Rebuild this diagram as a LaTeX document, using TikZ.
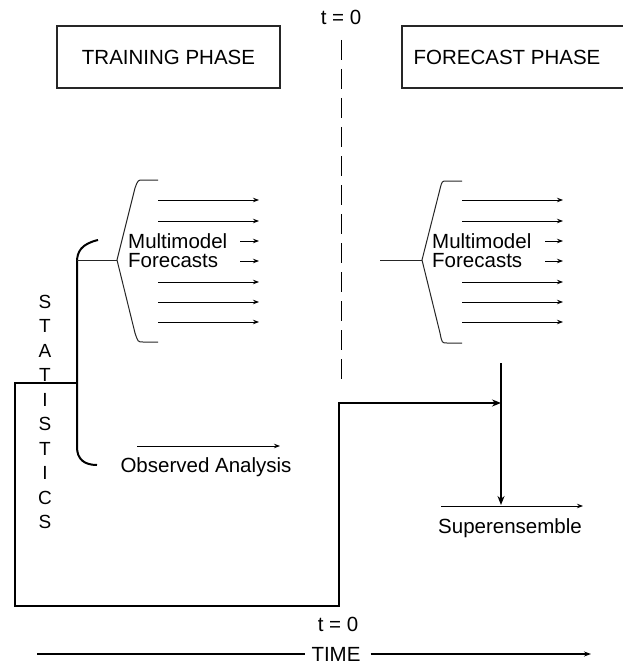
\documentclass[tikz,border=0pt]{standalone}
\usepackage{fontspec}
\setmainfont{Liberation Sans}
\usetikzlibrary{arrows.meta}
\begin{document}
\begin{tikzpicture}[x=1pt,y=-1pt,
  txt/.style={inner sep=0pt, font=\fontsize{20.5}{24}\selectfont},
  phasebox/.style={draw=black!85, line width=1.1pt},
  thinline/.style={line width=0.9pt, draw=black!85},
  thinarrow/.style={line width=0.9pt, -{Stealth[length=6pt,width=4.5pt]}},
  heavy/.style={line width=2pt},
  bigarrow/.style={line width=2pt, -{Stealth[length=9pt,width=7pt]}},
  bracestyle/.style={line width=1pt, draw=black!85}
]
\useasboundingbox (0,0) rectangle (623,666);
\clip (0,0) rectangle (623,666);

% phase boxes
\draw[phasebox] (57,26) rectangle (280,88);
\node[txt] (train) at (168.5,57) {TRAINING PHASE};
\draw[phasebox] (402,26) rectangle (640,88);
\node[txt] (fore) at (507,57) {FORECAST PHASE};

% t = 0 marks
\node[txt] (ttop) at (341,17) {t = 0};
\coordinate (dtop) at (341,40);
\coordinate (dbot) at (341,380);
\draw[line width=1pt, dash pattern=on 20pt off 9pt] (dtop) -- (dbot);

% left (training) multimodel block
\coordinate (lbtop) at (158,180);
\coordinate (lbtip) at (117,260);
\coordinate (lbbot) at (158,342);
\draw[bracestyle] (lbtop) -- (143,180) .. controls (138,180) .. (135,188) -- (lbtip) -- (135,333) .. controls (138,342) .. (143,342) -- (lbbot);
\foreach \y in {200,221,282,302,322} \draw[thinarrow] (158,\y) -- (259,\y);
\draw[thinarrow] (240,241) -- (259,241);
\draw[thinarrow] (240,261) -- (259,261);
\node[txt, anchor=west] (lmm) at (128,241) {Multimodel};
\node[txt, anchor=west] (lfc) at (128,261) {Forecasts};

% statistics bracket
\coordinate (hook) at (98,240);
\coordinate (bj) at (77,260);
\coordinate (bend) at (97,465);
\draw[heavy] (hook) .. controls (81,244) and (77,252) .. (77,262) -- (77,447) .. controls (77,459) and (84,465) .. (bend);
\draw[thinline] (bj) -- (lbtip);

% observed analysis
\coordinate (oa1) at (137,446);
\coordinate (oa2) at (280,446);
\draw[thinarrow] (oa1) -- (oa2);
\node[txt] (obs) at (206,467) {Observed Analysis};

% STATISTICS
\node[inner sep=0pt, align=center, font=\fontsize{19}{24.5}\selectfont] (stat) at (45,412) {S\\T\\A\\T\\I\\S\\T\\I\\C\\S};

% right (forecast) multimodel block
\coordinate (rin) at (380,260);
\coordinate (rbtop) at (462,181);
\coordinate (rbtip) at (422,260);
\coordinate (rbbot) at (462,343);
\draw[thinline] (rin) -- (rbtip);
\draw[bracestyle] (rbtop) -- (447,181) .. controls (442,181) .. (440,189) -- (rbtip) -- (440,333) .. controls (442,343) .. (447,343) -- (rbbot);
\foreach \y in {200,221,282,302,322} \draw[thinarrow] (462,\y) -- (563,\y);
\draw[thinarrow] (545,241) -- (563,241);
\draw[thinarrow] (545,261) -- (563,261);
\node[txt, anchor=west] (rmm) at (432,241) {Multimodel};
\node[txt, anchor=west] (rfc) at (432,261) {Forecasts};

% statistics step line
\coordinate (s0) at (77,383);
\coordinate (s1) at (15,383);
\coordinate (s2) at (15,606);
\coordinate (s3) at (339,606);
\coordinate (s4) at (339,403);
\coordinate (join) at (501,403);
\draw[bigarrow] (s0) -- (s1) -- (s2) -- (s3) -- (s4) -- (join);

% superensemble
\coordinate (vtop) at (501,363);
\coordinate (vbot) at (501,505);
\draw[bigarrow] (vtop) -- (vbot);
\coordinate (se1) at (441,506);
\coordinate (se2) at (583,506);
\draw[thinarrow] (se1) -- (se2);
\node[txt] (sup) at (510,528) {Superensemble};

% time axis
\node[txt] (tbot) at (338,624) {t = 0};
\node[txt] (time) at (336,654) {TIME};
\coordinate (tl) at (37,654);
\coordinate (tr) at (591,654);
\draw[line width=1.2pt] (tl) -- ([xshift=-6pt]time.west);
\draw[line width=1.2pt, -{Stealth[length=7pt,width=5pt]}] ([xshift=10pt]time.east) -- (tr);
\end{tikzpicture}
\end{document}
